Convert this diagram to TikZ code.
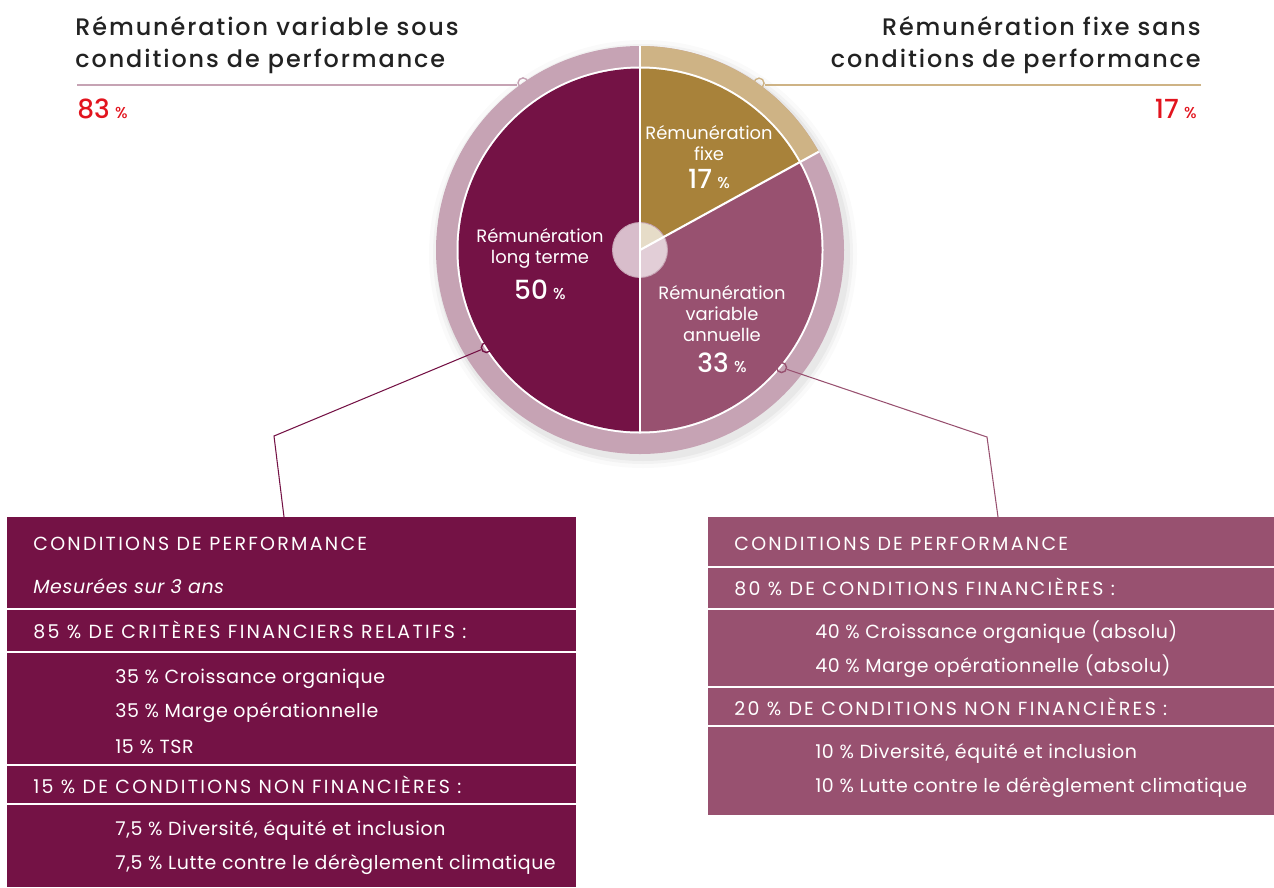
\documentclass[tikz,border=0pt]{standalone}
\usepackage{fontspec}
\setmainfont{Poppins}
\IfFontExistsTF{Poppins Medium}{\newfontfamily\medfont{Poppins Medium}}{\newcommand\medfont{\bfseries}}
\usetikzlibrary{positioning, calc}

\definecolor{burg}{HTML}{741245}
\definecolor{mauve}{HTML}{985170}
\definecolor{gold}{HTML}{A8823A}
\definecolor{ringpk}{HTML}{C6A3B4}
\definecolor{ringtan}{HTML}{CEB385}
\definecolor{redpc}{HTML}{E2141E}
\definecolor{ink}{HTML}{222222}

% grand chiffre + petit pourcentage
\newcommand{\gpc}[1]{{\medfont\fontsize{15}{11.9}\selectfont #1\hspace{3pt}{\fontsize{9}{9}\selectfont\%}}}

\tikzset{
  heading/.style={font=\medfont\fontsize{13.6}{18}\selectfont\addfontfeatures{LetterSpace=8}, text=ink, inner sep=0pt},
  pcred/.style={text=redpc, inner sep=0pt},
  lab/.style={text=white, align=center, inner sep=0pt, font=\normalfont\fontsize{10.2}{11.9}\selectfont},
  bxtxt/.style={text=white, inner sep=0pt, anchor=base west, font=\normalfont\fontsize{10.8}{12}\selectfont\addfontfeatures{LetterSpace=3}},
  bxcaps/.style={bxtxt, font=\normalfont\fontsize{10.8}{12}\selectfont\addfontfeatures{LetterSpace=12}},
  rowline/.style={white, line width=1pt},
  ringdot/.style={circle, draw=#1, line width=.8pt, minimum size=.2cm, inner sep=0pt},
  hthick/.style={line width=1.2pt},
  hthin/.style={line width=.6pt},
}

\begin{document}
\begin{tikzpicture}[x=0.02cm, y=-0.02cm]
    \useasboundingbox (0,0) rectangle (1274,887);
    \coordinate (ctr) at (640,250);

    % Ombre
    \foreach \r/\o in {214/0.02, 210/0.03, 207/0.045}
        \fill[black, opacity=\o] ([shift={(3,4)}]ctr) circle[radius=\r];

    % Anneau
    \fill[ringpk] (ctr) circle[radius=204];
    \fill[ringtan] (ctr) -- ++(-90:204) arc[start angle=-90, end angle=-28.8, radius=204] -- cycle;
    \fill[white] (ctr) circle[radius=183.5];

    % Secteurs
    \fill[burg] (ctr) -- ++(-90:181.5) arc[start angle=-90, end angle=-270, radius=181.5] -- cycle;
    \fill[gold] (ctr) -- ++(-90:181.5) arc[start angle=-90, end angle=-28.8, radius=181.5] -- cycle;
    \fill[mauve] (ctr) -- ++(-28.8:181.5) arc[start angle=-28.8, end angle=90, radius=181.5] -- cycle;

    % Centre
    \fill[white, opacity=.72] (ctr) circle[radius=27.5];
    \draw[ringpk, line width=.5pt] (ctr) circle[radius=27.5];
    \draw[white, line width=1.2pt] ([shift={(-90:204)}]ctr) -- ([shift={(90:181.5)}]ctr);
    \draw[white, line width=1.2pt] (ctr) -- ++(-28.8:204);

    % Textes du camembert
    \node[lab, anchor=north] (lbFix) at (709,125) {Rémunération\\fixe\\[4pt]\gpc{17}};
    \node[lab, anchor=north] (lbLong) at (540,228) {Rémunération\\long terme\\[6pt]\gpc{50}};
    \node[lab, anchor=north] (lbVar) at (722,285) {Rémunération\\variable\\annuelle\\[6pt]\gpc{33}};

    % Titres
    \node[heading, anchor=base west] (hdVarA) at (75,35) {Rémunération variable sous};
    \node[heading, anchor=base west] (hdVarB) at (75,67) {conditions de performance};
    \node[heading, anchor=base east] (hdFixA) at (1201,35) {Rémunération fixe sans};
    \node[heading, anchor=base east] (hdFixB) at (1201,67) {conditions de performance};
    \node[pcred, anchor=base west] (pcVar) at (77,118) {\gpc{83}};
    \node[pcred, anchor=base east] (pcFix) at (1197,118) {\gpc{17}};

    % Petits cercles
    \node[ringdot=ringpk] (dTL) at ([shift={(-125:204)}]ctr) {};
    \node[ringdot=ringtan] (dTR) at ([shift={(-54.5:205)}]ctr) {};
    \node[ringdot=burg] (dLB) at ([shift={(147.6:182)}]ctr) {};
    \node[ringdot=mauve] (dRB) at ([shift={(39.7:184)}]ctr) {};

    % Traits des titres
    \coordinate (hL0) at (77,85);
    \coordinate (hL1) at (417,85);
    \draw[ringpk, hthick] (hL0) -- (hL1);
    \draw[ringpk, hthin] (hL1) -- (hL1 -| dTL.west);
    \coordinate (hR0) at (1201,85);
    \coordinate (hR1) at (873,85);
    \draw[ringtan, hthick] (hR0) -- (hR1);
    \draw[ringtan, hthin] (hR1) -- (hR1 -| dTR.east);

    % Encadre gauche
    \fill[burg] (7,517) rectangle (576,887);
    \foreach \y in {609,652,765,804}
        \draw[rowline] (7,\y) -- (576,\y);
    \node[bxcaps] (l1) at (33,550) {CONDITIONS DE PERFORMANCE};
    \node[bxtxt, font=\normalfont\itshape\fontsize{10.8}{12}\selectfont\addfontfeatures{LetterSpace=3}] (l2) at (33,593) {Mesurées sur 3 ans};
    \node[bxcaps] (l3) at (33,638) {85 \% DE CRITÈRES FINANCIERS RELATIFS :};
    \node[bxtxt] (l4) at (115,683) {35 \% Croissance organique};
    \node[bxtxt] (l5) at (115,717) {35 \% Marge opérationnelle};
    \node[bxtxt] (l6) at (115,753) {15 \% TSR};
    \node[bxcaps] (l7) at (33,793) {15 \% DE CONDITIONS NON FINANCIÈRES :};
    \node[bxtxt] (l8) at (115,835) {7,5 \% Diversité, équité et inclusion};
    \node[bxtxt] (l9) at (115,869) {7,5 \% Lutte contre le dérèglement climatique};

    % Encadre droit
    \fill[mauve] (708,517) rectangle (1274,815);
    \foreach \y in {567,609,687,726}
        \draw[rowline] (708,\y) -- (1274,\y);
    \node[bxcaps] (r1) at (734,550) {CONDITIONS DE PERFORMANCE};
    \node[bxcaps] (r2) at (734,595) {80 \% DE CONDITIONS FINANCIÈRES :};
    \node[bxtxt] (r3) at (815,638) {40 \% Croissance organique (absolu)};
    \node[bxtxt] (r4) at (815,672) {40 \% Marge opérationnelle (absolu)};
    \node[bxcaps] (r5) at (734,715) {20 \% DE CONDITIONS NON FINANCIÈRES :};
    \node[bxtxt] (r6) at (815,758) {10 \% Diversité, équité et inclusion};
    \node[bxtxt] (r7) at (815,792) {10 \% Lutte contre le dérèglement climatique};

    % Liaisons
    \coordinate (kL) at (274,436);
    \coordinate (tL) at (284,517);
    \draw[burg, line width=.6pt] (dLB) -- (kL) -- (tL);
    \coordinate (kR) at (987,437);
    \coordinate (tR) at (998,517);
    \draw[mauve, line width=.6pt] (dRB) -- (kR) -- (tR);
\end{tikzpicture}
\end{document}
